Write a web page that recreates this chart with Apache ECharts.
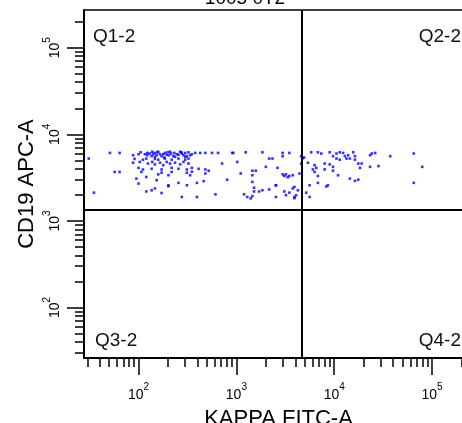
<!DOCTYPE html>
<html><head><meta charset="utf-8">
<script src="https://cdn.jsdelivr.net/npm/echarts@6/dist/echarts.min.js"></script>
<style>html,body{margin:0;padding:0;background:#fff}#c{width:462px;height:423px}</style>
</head><body><div id="c"></div>
<script>
const plotTitle = '1005 0T2';
const xName = 'KAPPA FITC-A';
const yName = 'CD19 APC-A';
const quadrantLabels = ['Q1-2', 'Q2-2', 'Q3-2', 'Q4-2'];
const xRange = [27.7, 262143];
const yRange = [26.1, 273000];
const majorTicks = [100, 1000, 10000, 100000];
const minorTicks = [30, 40, 50, 60, 70, 80, 90, 200, 300, 400, 500, 600, 700, 800, 900,
  2000, 3000, 4000, 5000, 6000, 7000, 8000, 9000, 20000, 30000, 40000, 50000, 60000, 70000, 80000, 90000, 200000];
const gateX = 4670;
const gateY = 1334;

const kappa = [51,64,105,123,147,156,186,199,232,275,300,324,380,427,482,564,650,906,930,1245,1846,2970,3480,5820,6810,7380,8990,10540,11400,12330,15640,24200,26200,65000,
88,100,123,136,141,153,172,179,205,227,246,288,312,337,4590,4920,9720,12850,13900,16290,23270,37400,
130,138,166,194,215,256,277,351,116,147,183,236,300,210,159,266,
31,91,111,120,147,159,186,218,256,300,324,2163,2340,2970,4775,10540,11400,13360,14450,16290,
88,103,125,138,147,166,179,194,210,236,266,288,324,714,1020,1999,4590,5380,6300,7980,8990,9720,17620,19100,23270,28330,79400,
100,111,136,172,218,256,312,351,411,482,521,1457,1578,2635,6050,6550,7980,9720,18350,
57,64,107,172,218,312,351,1107,6300,10950,
95,120,159,202,337,482,1457,2970,3090,3213,3480,3770,4415,6810,14450,3340,
100,153,202,256,395,463,805,1457,2535,6810,16290,17620,65000,
136,147,202,312,1517,1846,2163,2535,3090,3770,3920,5600,8300,8630,4250,
35,120,172,277,395,611,1197,1290,1402,1517,1707,2535,3213,3480,3920,4080,5170,5600,1457,3920];

const cd19 = [6100,6100,6200,6100,6100,6200,6100,6200,6100,6200,6100,6200,6100,6100,6100,6100,6100,6100,6100,6200,6200,6100,6100,6200,6200,6000,6200,6000,6200,6100,6200,6000,6100,6000,
5740,5900,5740,5600,5900,5740,5600,5900,5740,5600,5900,5740,5600,5740,5590,5400,5600,5600,5740,5600,5740,5590,
6000,6300,5900,5800,6000,5800,6000,5900,5900,5500,5400,5500,5500,6300,6300,6300,
5250,5200,5100,5250,5200,5100,5250,5100,5250,5100,5250,5250,5250,5590,5300,5250,5100,5250,5250,5100,
4700,4800,4600,4800,4500,4700,4400,4800,4600,4700,4500,4800,4600,4600,4800,4210,4600,4700,4400,4600,4500,4210,4600,4600,4210,4300,4210,
4100,3930,4000,3930,4100,4000,3930,4100,4000,3930,3800,3800,3800,4100,3930,4100,3930,3800,4100,
3680,3680,3680,3600,3680,3600,3700,3530,3680,3370,
3080,3220,3450,3370,3370,3530,3370,3450,3300,3450,3300,3370,3530,3300,3080,3200,
2700,2950,2580,2750,2750,2880,2990,2820,2580,2750,2900,2990,2750,
2260,2370,2520,2580,2420,2260,2310,2580,2190,2370,2470,2580,2500,2580,2260,
2120,2190,2100,1890,1890,2030,2030,1890,1820,2190,2190,1890,1980,2120,1890,1980,2120,1890,1930,1830];

const L = Math.log10;
const FONT = '"Liberation Sans", Arial, sans-serif';
const rich = {
  b: { fontSize: 14, lineHeight: 20, verticalAlign: 'bottom', fontFamily: FONT, color: '#000' },
  e: { fontSize: 10, lineHeight: 4, verticalAlign: 'top', fontFamily: FONT, color: '#000' }
};
const fmt = v => '{b|10}{e|' + Math.round(v) + '}';
const pts = kappa.map((k, i) => [L(k), L(cd19[i])]);

function axes(range, isY) {
  const base = {
    type: 'value', min: L(range[0]), max: L(range[1]),
    position: isY ? 'left' : 'bottom', splitLine: { show: false }
  };
  const major = Object.assign({}, base, {
    axisLine: { show: true, onZero: false, lineStyle: { color: '#000', width: 2 } },
    axisTick: { show: true, customValues: majorTicks.map(L), length: 17, lineStyle: { color: '#000', width: 1.5 } },
    axisLabel: { show: true, customValues: majorTicks.map(L), formatter: fmt, rich: rich,
      margin: isY ? 22 : 24, rotate: isY ? 90 : 0 },
    name: isY ? yName : xName, nameLocation: 'middle', nameGap: isY ? 46 : 50,
    nameTextStyle: { fontSize: 22, fontFamily: FONT, color: '#000' }
  });
  if (isY) major.nameMoveOverlap = false;
  const minor = Object.assign({}, base, {
    axisLine: { show: false },
    axisTick: { show: true, customValues: minorTicks.map(L), length: 9, lineStyle: { color: '#000', width: 1.5 } },
    axisLabel: { show: false }
  });
  return [major, minor];
}

const chart = echarts.init(document.getElementById('c'), null, { renderer: 'canvas' });
const qStyle = { fontSize: 19, fontFamily: FONT, fill: '#111' };
chart.setOption({
  animation: false,
  backgroundColor: '#fff',
  grid: { left: 84, top: 10, right: -11, bottom: 65, show: true, borderColor: '#000', borderWidth: 1.5,
    containLabel: false, outerBoundsMode: 'none' },
  xAxis: axes(xRange, false),
  yAxis: axes(yRange, true),
  graphic: [
    { type: 'text', x: 245, y: -11, style: Object.assign({ text: plotTitle, textAlign: 'center', align: 'center', fill: '#000' }, { fontSize: 19, fontFamily: FONT }) },
    { type: 'text', x: 93, y: 27, style: Object.assign({ text: quadrantLabels[0] }, qStyle) },
    { type: 'text', x: 461, y: 27, style: Object.assign({ text: quadrantLabels[1], textAlign: 'right', align: 'right' }, qStyle) },
    { type: 'text', x: 95, y: 331, style: Object.assign({ text: quadrantLabels[2] }, qStyle) },
    { type: 'text', x: 461, y: 331, style: Object.assign({ text: quadrantLabels[3], textAlign: 'right', align: 'right' }, qStyle) }
  ],
  series: [{
    type: 'scatter', xAxisIndex: 0, yAxisIndex: 0, data: pts,
    symbol: 'rect', symbolSize: 2.6, itemStyle: { color: '#0000ff' }, silent: true,
    markLine: {
      silent: true, symbol: ['none', 'none'], label: { show: false },
      lineStyle: { color: '#000', width: 2, type: 'solid' },
      data: [{ xAxis: L(gateX) }, { yAxis: L(gateY) }]
    }
  }]
});
</script></body></html>
